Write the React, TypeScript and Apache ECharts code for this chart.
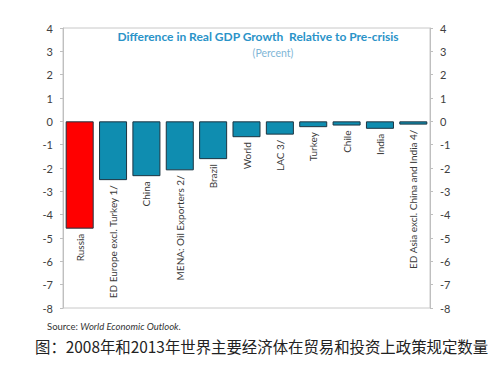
import React, { useEffect, useRef } from "react";
import * as echarts from "echarts";

const categories = [
  "Russia",
  "ED Europe excl. Turkey 1/",
  "China",
  "MENA: Oil Exporters 2/",
  "Brazil",
  "World",
  "LAC 3/",
  "Turkey",
  "Chile",
  "India",
  "ED Asia excl. China and India 4/",
];
const values = [-4.6, -2.52, -2.35, -2.1, -1.62, -0.68, -0.57, -0.25, -0.18, -0.32, -0.14];
const highlighted = ["Russia"];
const titleText = "Difference in Real GDP Growth  Relative to Pre-crisis";
const subtitleText = "(Percent)";
const captionText = "图：2008年和2013年世界主要经济体在贸易和投资上政策规定数量";

export default function App() {
  const ref = useRef<HTMLDivElement>(null);
  useEffect(() => {
    if (!ref.current) return;
    const chart = echarts.init(ref.current, null, { renderer: "svg" });
    const yAxisBase = {
      type: "value",
      min: -8,
      max: 4,
      interval: 1,
      splitLine: { show: false },
      axisLine: { show: true, lineStyle: { color: "#bfbfbf", width: 1 } },
      axisTick: { show: true, length: 3, lineStyle: { color: "#bfbfbf" } },
      axisLabel: { color: "#404040", fontSize: 11, fontFamily: "Lato", margin: 10 },
    };
    chart.setOption({
      animation: false,
      backgroundColor: "#ffffff",
      grid: {
        left: 63,
        right: 70,
        top: 28,
        bottom: 57,
        show: true,
        borderColor: "#c8c8c8",
        borderWidth: 1,
      },
      xAxis: {
        type: "category",
        data: categories,
        axisLine: { show: false },
        axisTick: { show: false },
        axisLabel: { show: false },
      },
      yAxis: [
        { ...yAxisBase, position: "left" },
        { ...yAxisBase, position: "right" },
      ],
      series: [
        {
          type: "bar",
          yAxisIndex: 0,
          barWidth: "84%",
          data: values.map((v, i) => ({
            value: v,
            itemStyle: {
              color: highlighted.includes(categories[i]) ? "#ff0000" : "#0f8db0",
              borderColor: "#1d3440",
              borderWidth: 1,
            },
          })),
          label: {
            show: true,
            formatter: "{b}",
            position: "bottom",
            rotate: 90,
            align: "right",
            verticalAlign: "middle",
            distance: 5,
            color: "#3a3a3a",
            fontSize: 10,
            fontFamily: "Lato",
          },
        },
      ],
      graphic: [
        {
          type: "text",
          x: 258,
          y: 36,
          style: {
            text: titleText,
            fill: "#2a93c8",
            fontSize: 12,
            fontWeight: "bold",
            fontFamily: "Lato",
            align: "center",
            verticalAlign: "middle",
          },
        },
        {
          type: "text",
          x: 273,
          y: 53,
          style: {
            text: subtitleText,
            fill: "#7fb6d6",
            fontSize: 10.5,
            fontFamily: "Lato",
            align: "center",
            verticalAlign: "middle",
          },
        },
        {
          type: "text",
          x: 47,
          y: 326,
          style: {
            text: "{a|Source: }{b|World Economic Outlook.}",
            rich: {
              a: { fill: "#333333", fontSize: 9.5, fontFamily: "Lato" },
              b: { fill: "#333333", fontSize: 9.5, fontFamily: "Lato", fontStyle: "italic" },
            },
            verticalAlign: "middle",
          },
        },
        {
          type: "text",
          x: 35,
          y: 346,
          style: {
            text: captionText,
            fill: "#222222",
            fontSize: 15.4,
            fontFamily: "Noto Sans CJK SC",
            verticalAlign: "middle",
          },
        },
      ],
    });
    return () => chart.dispose();
  }, []);
  return (
    <div
      ref={ref}
      style={{ position: "fixed", left: 0, top: 0, width: 500, height: 365, background: "#fff" }}
    />
  );
}
